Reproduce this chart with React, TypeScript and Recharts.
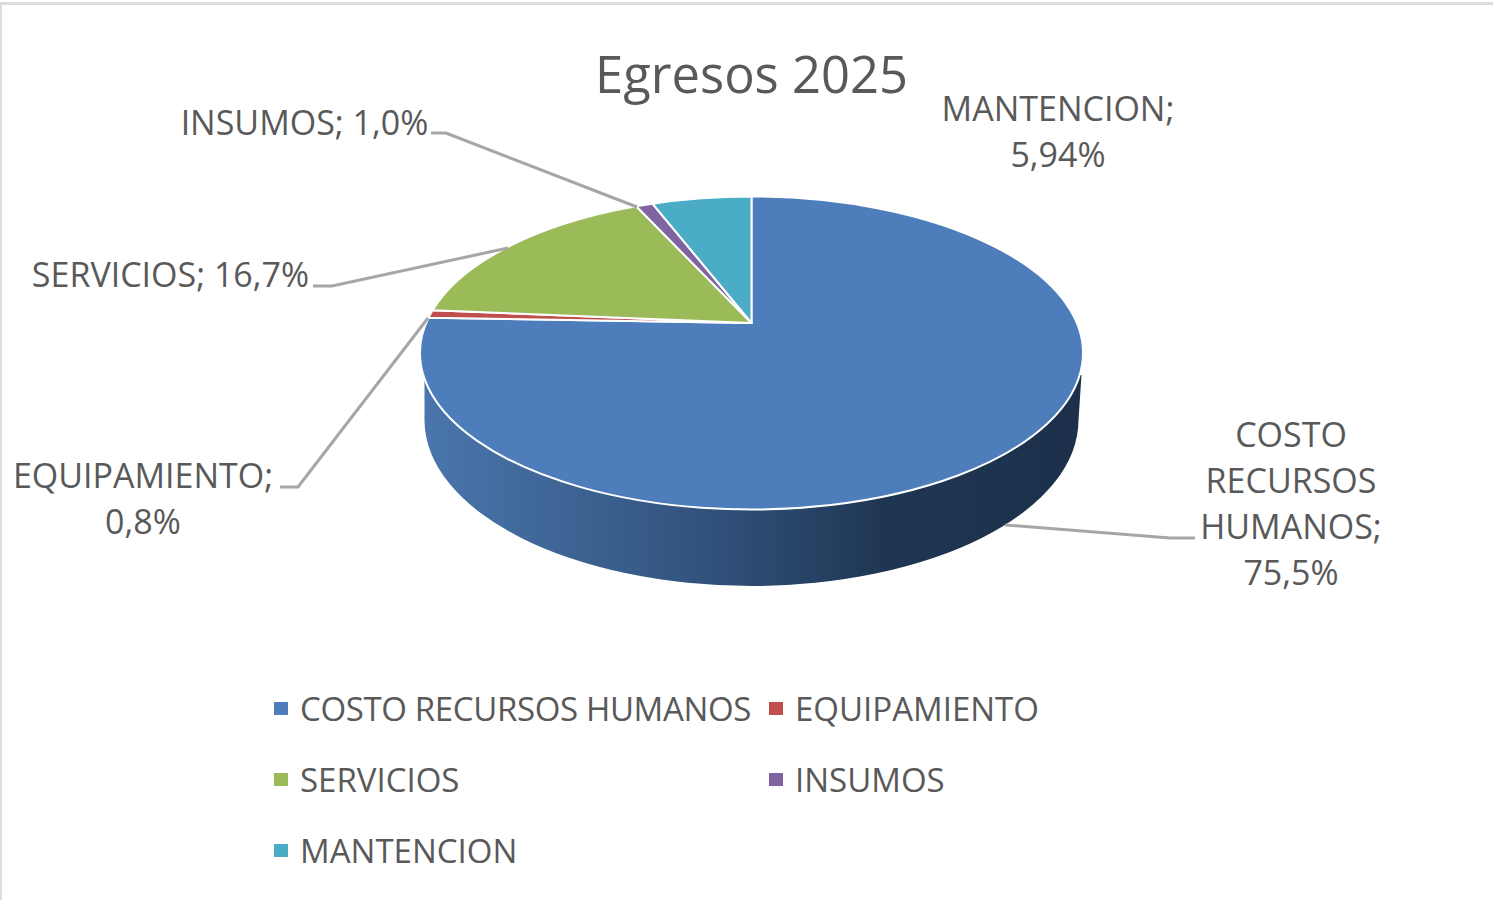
import React from "react";
import { PieChart, Pie, Legend } from "recharts";

const categories = [
  "COSTO RECURSOS HUMANOS",
  "EQUIPAMIENTO",
  "SERVICIOS",
  "INSUMOS",
  "MANTENCION",
];
const shares = [75.5, 0.8, 16.7, 1.0, 5.94];
const shareLabels = ["75,5%", "0,8%", "16,7%", "1,0%", "5,94%"];
const colors = ["#4d7ebb", "#c0504d", "#9bbb59", "#8064a2", "#4bacc6"];

const data = categories.map((name, i) => ({
  name,
  value: shares[i],
  fill: colors[i],
}));

const FONT = "'Open Sans', sans-serif";
const TEXT = "#595959";

// top face of the tilted pie: the apex sits above the ellipse centre
const APEX = { x: 751.5, y: 323 };
const TOP = { x: 751.5, y: 353, rx: 331.5, ry: 156.5 };
const BOTTOM = { y: 420, rx: 327, ry: 166 };

// where each data label and its leader line go
const labelLayout = [
  { x: 1291, y: 447, lines: ["COSTO", "RECURSOS", "HUMANOS;"], leader: "1005,525 1170,538 1195,538" },
  { x: 143, y: 488, lines: ["EQUIPAMIENTO;"], leader: "428,318 298,487 280,487" },
  { x: 170.5, y: 287, lines: ["SERVICIOS;"], leader: "508,248 332,286 313,286" },
  { x: 304.5, y: 135, lines: ["INSUMOS;"], leader: "637,207 446,133 431,133" },
  { x: 1058, y: 121, lines: ["MANTENCION;"], leader: "" },
];

// pie angle (degrees) to point on the rim of the top face
function rimPoint(angle: number) {
  const rad = (angle * Math.PI) / 180;
  const v0 = (APEX.y - TOP.y) / TOP.ry;
  const s = Math.sin(rad);
  const t = v0 * s + Math.sqrt(v0 * v0 * s * s - v0 * v0 + 1);
  const u = t * Math.cos(rad);
  const v = v0 - t * s;
  return { x: TOP.x + TOP.rx * u, y: TOP.y + TOP.ry * v, param: Math.atan2(v, u) };
}

function EllipseSlice(props: any) {
  const { startAngle, endAngle, fill, index } = props;
  const a = rimPoint(startAngle);
  const b = rimPoint(endAngle);
  let delta = b.param - a.param;
  if (delta < 0) delta += Math.PI * 2;
  const large = delta > Math.PI ? 1 : 0;
  const face =
    `M${APEX.x},${APEX.y} L${a.x},${a.y} ` +
    `A${TOP.rx},${TOP.ry} 0 ${large} 1 ${b.x},${b.y} Z`;

  return (
    <g>
      {index === 0 && (
        <path
          d={
            `M${TOP.x - 327},378 L${TOP.x - BOTTOM.rx},${BOTTOM.y} ` +
            `A${BOTTOM.rx},${BOTTOM.ry} 0 0 0 ${TOP.x + BOTTOM.rx},${BOTTOM.y} ` +
            `L${TOP.x + 330},375 Z`
          }
          fill="url(#sideShade)"
        />
      )}
      <path d={face} fill={fill} stroke="#ffffff" strokeWidth={2} strokeLinejoin="round" />
    </g>
  );
}

function DataLabel(props: any) {
  const { index } = props;
  const item = labelLayout[index];
  const oneLine = index === 2 || index === 3;
  const lines = oneLine
    ? [`${item.lines[0]} ${shareLabels[index]}`]
    : [...item.lines, shareLabels[index]];

  return (
    <g>
      {item.leader && (
        <polyline points={item.leader} fill="none" stroke="#a6a6a6" strokeWidth={3} />
      )}
      <text
        x={item.x}
        y={item.y}
        textAnchor="middle"
        fontFamily={FONT}
        fontSize={34}
        fill={TEXT}
      >
        {lines.map((line, i) => (
          <tspan key={line} x={item.x} dy={i === 0 ? 0 : 46}>
            {line}
          </tspan>
        ))}
      </text>
    </g>
  );
}

function LegendGrid(props: any) {
  const { payload } = props;
  return (
    <div
      style={{
        display: "grid",
        gridTemplateColumns: "495px 300px",
        gridAutoRows: "71px",
        fontFamily: FONT,
        fontSize: 33,
        color: TEXT,
      }}
    >
      {(payload || []).map((entry: any) => (
        <div
          key={entry.value}
          style={{
            display: "flex",
            alignItems: "center",
            whiteSpace: "nowrap",
            letterSpacing: entry.value.includes(" ") ? -0.36 : 0,
          }}
        >
          <span
            style={{
              width: 14,
              height: 13,
              background: entry.color,
              marginLeft: 1,
              marginRight: 12,
              flex: "none",
            }}
          />
          {entry.value}
        </div>
      ))}
    </div>
  );
}

export default function App() {
  return (
    <div
      style={{
        position: "absolute",
        left: 0,
        top: 0,
        width: 1493,
        height: 900,
        background: "#ffffff",
        overflow: "hidden",
      }}
    >
      <div style={{ position: "absolute", left: 0, top: 2, width: 1493, height: 3, background: "#dcdcdc" }} />
      <div style={{ position: "absolute", left: 0, top: 2, width: 2, height: 898, background: "#dcdcdc" }} />

      <PieChart width={1493} height={900} style={{ position: "absolute", left: 0, top: 0 }}>
        <defs>
          <linearGradient id="sideShade" x1="0" y1="0" x2="1" y2="0">
            <stop offset="0%" stopColor="#4a76ad" />
            <stop offset="45%" stopColor="#30507a" />
            <stop offset="70%" stopColor="#1f3652" />
            <stop offset="100%" stopColor="#1c304b" />
          </linearGradient>
        </defs>
        <text
          x={751.5}
          y={92.5}
          textAnchor="middle"
          fontFamily={FONT}
          fontSize={50.7}
          fill={TEXT}
        >
          Egresos 2025
        </text>
        <Pie
          data={data}
          dataKey="value"
          nameKey="name"
          cx={APEX.x}
          cy={APEX.y}
          outerRadius={TOP.rx}
          startAngle={90}
          endAngle={-270}
          paddingAngle={0}
          stroke="none"
          shape={EllipseSlice}
          label={DataLabel}
          labelLine={false}
          isAnimationActive={false}
        />
        <Legend
          content={LegendGrid}
          itemSorter={null}
          wrapperStyle={{ left: 273, top: 673, width: 800 }}
        />
      </PieChart>
    </div>
  );
}
